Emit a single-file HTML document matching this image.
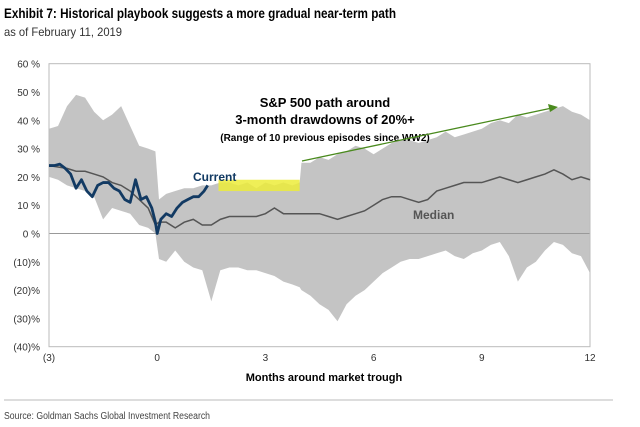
<!DOCTYPE html>
<html><head><meta charset="utf-8"><style>
body{margin:0;background:#fff;width:640px;height:427px;overflow:hidden;font-family:"Liberation Sans",sans-serif}
svg{display:block}
</style></head><body>
<svg width="640" height="427" id="c">
<text x="4" y="18" font-size="14" font-weight="bold" textLength="392" lengthAdjust="spacingAndGlyphs">Exhibit 7: Historical playbook suggests a more gradual near-term path</text>
<text x="4" y="36" font-size="12" fill="#333" textLength="118" lengthAdjust="spacingAndGlyphs">as of February 11, 2019</text>
<g id="plot"></g>
<text x="325" y="107" font-size="13" font-weight="bold" text-anchor="middle">S&amp;P 500 path around</text>
<text x="325" y="124" font-size="13" font-weight="bold" text-anchor="middle">3-month drawdowns of 20%+</text>
<text x="325" y="141" font-size="10" font-weight="bold" text-anchor="middle">(Range of 10 previous episodes since WW2)</text>
<line x1="302" y1="161" x2="552" y2="108" stroke="#4a8a1e" stroke-width="1.3"/>
<polygon points="558,107 548,104 550,112" fill="#4a8a1e"/>
<text x="193" y="181" font-size="12" font-weight="bold" fill="#123a63">Current</text>
<text x="413" y="219" font-size="12" font-weight="bold" fill="#555">Median</text>
<text x="324" y="381" font-size="11" font-weight="bold" text-anchor="middle">Months around market trough</text>
<line x1="4" y1="400" x2="613" y2="400" stroke="#bbb"/>
<text x="4" y="419" font-size="10" fill="#444" textLength="206" lengthAdjust="spacingAndGlyphs">Source: Goldman Sachs Global Investment Research</text>
</svg>
<script>
const xs=[-3,-2.75,-2.5,-2.25,-2,-1.75,-1.5,-1.25,-1,-0.75,-0.5,-0.25,-0.05,0.05,0.25,0.5,0.75,1,1.25,1.5,1.75,2,2.25,2.5,2.75,3,3.25,3.5,3.75,3.95,4,4.25,4.5,4.75,5,5.25,5.5,5.75,6,6.25,6.5,6.75,7,7.25,7.5,7.75,8,8.25,8.5,8.75,9,9.25,9.5,9.75,10,10.25,10.5,10.75,11,11.25,11.5,11.75,12];
const upper=[37,38,45,49,48,43,40,42,45,38,31,30,29,12,14,15,16,16,17,17,18,18,17,18,16,18,17,18,17,18,25,25,27,26,28,29,31,30,28,30,32,33,33,32,33,34,36,34,35,36,37,39,40,39,42,41,42,43,44,45,43,42,40];
const lower=[20,19,17,16,15,13,5,9,8,7,3,2,0,-9,-10,-6,-10,-12,-13,-24,-13,-12,-12,-13,-13,-14,-15,-17,-18,-19,-20,-22,-25,-27,-31,-25,-22,-20,-17,-14,-12,-10,-9,-9,-8,-7,-6,-8,-9,-7,-6,-4,-3,-8,-17,-12,-10,-6,-3,-4,-7,-8,-14];
const median=[24,23.5,23,22,22,21,20,18,17,15,12,9,3,4,4,2,4,5,3,3,5,6,6,6,6,7,9,7,7,7,7,7,7,6,5,6,7,8,10,12,13,13,12,11,12,15,16,17,18,18,18,19,20,19,18,19,20,21,22.5,21,19,20,19];
const curX=[-3,-2.85,-2.7,-2.55,-2.4,-2.25,-2.1,-1.95,-1.8,-1.65,-1.5,-1.35,-1.2,-1.05,-0.9,-0.75,-0.6,-0.45,-0.3,-0.15,-0.05,0,0.1,0.25,0.4,0.55,0.7,0.85,1,1.15,1.3,1.4];
const curY=[24,24,24.5,23,21,16,19,15,13,17,18,18,16,15,12,11,19,12,13,9,4,0,5,7,6,9,11,12,13,13,15,17];
const yTicks=[60,50,40,30,20,10,0,-10,-20,-30,-40];
const yLabels=["60 %","50 %","40 %","30 %","20 %","10 %","0 %","(10)%","(20)%","(30)%","(40)%"];
const xTicks=[-3,0,3,6,9,12];
const xLabels=["(3)","0","3","6","9","12"];
const X=v=>49+(v+3)*(541/15);
const Y=v=>233.5-v*2.83;
const NS="http://www.w3.org/2000/svg";
const g=document.getElementById('plot');
function mk(t,a){const e=document.createElementNS(NS,t);for(const k in a)e.setAttribute(k,a[k]);g.appendChild(e);return e;}
let d="M"+xs.map((x,i)=>X(x)+","+Y(upper[i])).join("L");
for(let i=xs.length-1;i>=0;i--)d+="L"+X(xs[i])+","+Y(lower[i]);
let band=mk('path',{d:d+"Z",fill:"#c4c4c4"});


let hl=mk('rect',{x:X(1.7),y:Y(19),width:X(3.95)-X(1.7),height:Y(15)-Y(19),fill:"#ecec3a",opacity:0.85});


let zl=mk('line',{x1:X(-3),x2:X(12),y1:Y(0),y2:Y(0),stroke:"#999"});


let fr=mk('rect',{x:X(-3),y:Y(60),width:X(12)-X(-3),height:Y(-40)-Y(60),fill:"none",stroke:"#bbb"});


let md=mk('path',{d:"M"+xs.map((x,i)=>X(x)+","+Y(median[i])).join("L"),fill:"none",stroke:"#555",'stroke-width':1.5});


let cu=mk('path',{d:"M"+curX.map((x,i)=>X(x)+","+Y(curY[i])).join("L"),fill:"none",stroke:"#123a63",'stroke-width':2.8,'stroke-linejoin':'round'});


yTicks.forEach((v,i)=>{const t=mk('text',{x:40,y:Y(v)+4,'font-size':10,'text-anchor':'end',fill:'#333'});t.textContent=yLabels[i];

});
xTicks.forEach((v,i)=>{const t=mk('text',{x:X(v),y:361,'font-size':10,'text-anchor':'middle',fill:'#333'});t.textContent=xLabels[i];

});
</script>
</body></html>
